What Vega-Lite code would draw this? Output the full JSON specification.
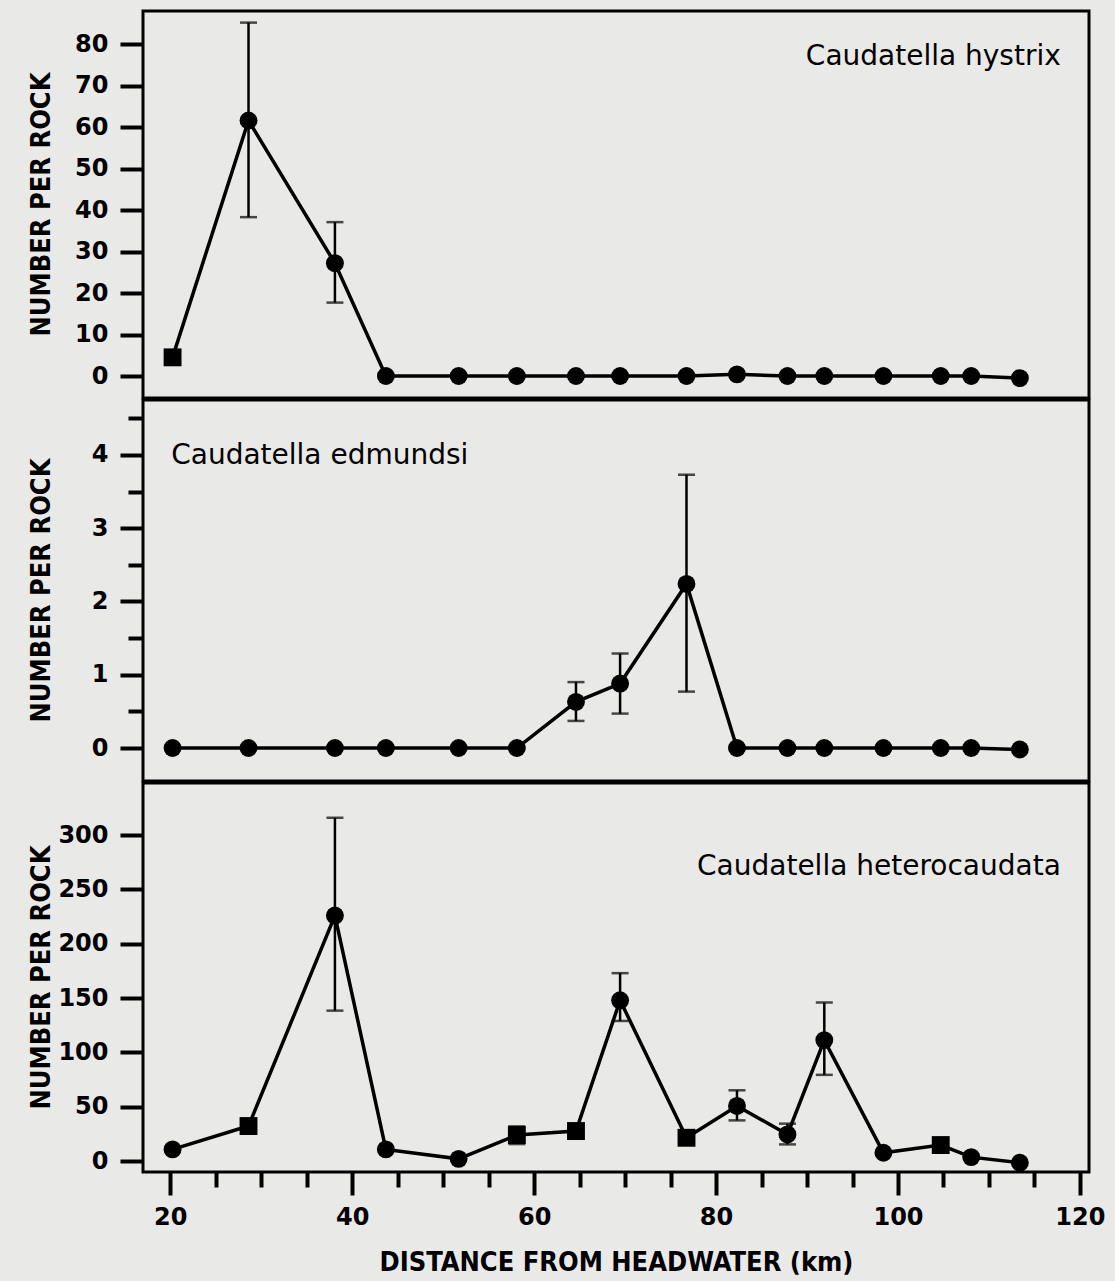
{
  "$schema": "https://vega.github.io/schema/vega-lite/v6.json",
  "background": "#e9e9e7",
  "padding": {"left": 25, "top": 9, "right": 23, "bottom": 6},
  "spacing": -3,
  "config": {
    "view": {"stroke": "#000", "strokeWidth": 3},
    "axis": {
      "domain": false, "grid": false, "tickColor": "#000", "tickWidth": 4,
      "labelColor": "#000", "labelFont": "DejaVu Sans", "labelFontSize": 24, "labelFontWeight": "bold",
      "titleColor": "#000", "titleFont": "DejaVu Sans Condensed", "titleFontSize": 27, "titleFontWeight": "bold"
    }
  },
  "datasets": {
    "d": [
      {"sp": "hystrix", "km": 20.25, "n": 4.5, "grp": "B"},
      {"sp": "hystrix", "km": 28.6, "n": 61.6, "lo": 38.3, "hi": 85.2, "grp": "A"},
      {"sp": "hystrix", "km": 38.1, "n": 27.2, "lo": 17.7, "hi": 37.1, "grp": "A"},
      {"sp": "hystrix", "km": 43.7, "n": 0, "grp": "A"},
      {"sp": "hystrix", "km": 51.7, "n": 0, "grp": "A"},
      {"sp": "hystrix", "km": 58.1, "n": 0, "grp": "A"},
      {"sp": "hystrix", "km": 64.6, "n": 0, "grp": "A"},
      {"sp": "hystrix", "km": 69.45, "n": 0, "grp": "A"},
      {"sp": "hystrix", "km": 76.75, "n": 0, "grp": "A"},
      {"sp": "hystrix", "km": 82.3, "n": 0.4, "grp": "A"},
      {"sp": "hystrix", "km": 87.85, "n": 0, "grp": "A"},
      {"sp": "hystrix", "km": 91.9, "n": 0, "grp": "A"},
      {"sp": "hystrix", "km": 98.4, "n": 0, "grp": "A"},
      {"sp": "hystrix", "km": 104.7, "n": 0, "grp": "A"},
      {"sp": "hystrix", "km": 108.05, "n": 0, "grp": "A"},
      {"sp": "hystrix", "km": 113.4, "n": -0.5, "grp": "A"},
      {"sp": "edmundsi", "km": 20.25, "n": 0, "grp": "A"},
      {"sp": "edmundsi", "km": 28.6, "n": 0, "grp": "A"},
      {"sp": "edmundsi", "km": 38.1, "n": 0, "grp": "A"},
      {"sp": "edmundsi", "km": 43.7, "n": 0, "grp": "A"},
      {"sp": "edmundsi", "km": 51.7, "n": 0, "grp": "A"},
      {"sp": "edmundsi", "km": 58.1, "n": 0, "grp": "A"},
      {"sp": "edmundsi", "km": 64.6, "n": 0.63, "lo": 0.37, "hi": 0.9, "grp": "A"},
      {"sp": "edmundsi", "km": 69.45, "n": 0.88, "lo": 0.47, "hi": 1.29, "grp": "A"},
      {"sp": "edmundsi", "km": 76.75, "n": 2.24, "lo": 0.77, "hi": 3.73, "grp": "A"},
      {"sp": "edmundsi", "km": 82.3, "n": 0, "grp": "A"},
      {"sp": "edmundsi", "km": 87.85, "n": 0, "grp": "A"},
      {"sp": "edmundsi", "km": 91.9, "n": 0, "grp": "A"},
      {"sp": "edmundsi", "km": 98.4, "n": 0, "grp": "A"},
      {"sp": "edmundsi", "km": 104.7, "n": 0, "grp": "A"},
      {"sp": "edmundsi", "km": 108.05, "n": 0, "grp": "A"},
      {"sp": "edmundsi", "km": 113.4, "n": -0.02, "grp": "A"},
      {"sp": "heterocaudata", "km": 20.25, "n": 10.8, "grp": "A"},
      {"sp": "heterocaudata", "km": 28.6, "n": 32.3, "grp": "B"},
      {"sp": "heterocaudata", "km": 38.1, "n": 226, "lo": 138.5, "hi": 316, "grp": "A"},
      {"sp": "heterocaudata", "km": 43.7, "n": 10.8, "grp": "A"},
      {"sp": "heterocaudata", "km": 51.7, "n": 2.1, "grp": "A"},
      {"sp": "heterocaudata", "km": 58.1, "n": 24, "lo": 15.7, "hi": 32, "grp": "B"},
      {"sp": "heterocaudata", "km": 64.6, "n": 27.7, "grp": "B"},
      {"sp": "heterocaudata", "km": 69.45, "n": 148, "lo": 129, "hi": 173, "grp": "A"},
      {"sp": "heterocaudata", "km": 76.75, "n": 21.5, "grp": "B"},
      {"sp": "heterocaudata", "km": 82.3, "n": 50.8, "lo": 37.5, "hi": 65.2, "grp": "A"},
      {"sp": "heterocaudata", "km": 87.85, "n": 24.6, "lo": 15.4, "hi": 34.5, "grp": "A"},
      {"sp": "heterocaudata", "km": 91.9, "n": 111.4, "lo": 79.4, "hi": 146, "grp": "A"},
      {"sp": "heterocaudata", "km": 98.4, "n": 7.7, "grp": "A"},
      {"sp": "heterocaudata", "km": 104.7, "n": 14.8, "grp": "B"},
      {"sp": "heterocaudata", "km": 108.05, "n": 3.7, "grp": "A"},
      {"sp": "heterocaudata", "km": 113.4, "n": -1.5, "grp": "A"}
    ]
  },
  "vconcat": [
    {
      "width": 946, "height": 387,
      "layer": [
        {
          "data": {"name": "d"},
          "transform": [{"filter": "datum.sp === 'hystrix'"}],
          "encoding": {
            "x": {"field": "km", "type": "quantitative", "scale": {"domain": [17, 121], "nice": false, "zero": false}, "axis": null}
          },
          "layer": [
            {"mark": {"type": "line", "color": "#000", "strokeWidth": 3.5},
             "encoding": {"y": {"field": "n", "type": "quantitative", "scale": {"domain": [-5.3, 88], "nice": false, "zero": false},
               "axis": {"values": [0,5,10,15,20,25,30,35,40,45,50,55,60,65,70,75,80,85],
                 "labelExpr": "datum.value % 10 === 0 ? datum.label : ''",
                 "tickSize": {"condition": {"test": "datum.value % 10 === 0", "value": 23}, "value": 15},
                 "labelPadding": 12,
                 "title": "NUMBER PER ROCK", "titleX": -102, "titleY": 193, "titleBaseline": "middle", "titleAngle": 270}}}},
            {"mark": {"type": "rule", "color": "#000", "strokeWidth": 2.5},
             "encoding": {"y": {"field": "lo", "type": "quantitative"}, "y2": {"field": "hi"}}},
            {"mark": {"type": "tick", "color": "#000", "orient": "horizontal", "size": 17, "thickness": 2.5},
             "encoding": {"y": {"field": "lo", "type": "quantitative"}}},
            {"mark": {"type": "tick", "color": "#000", "orient": "horizontal", "size": 17, "thickness": 2.5},
             "encoding": {"y": {"field": "hi", "type": "quantitative"}}},
            {"mark": {"type": "point", "filled": true, "color": "#000", "opacity": 1, "size": 320},
             "encoding": {"y": {"field": "n", "type": "quantitative"},
               "shape": {"field": "grp", "type": "nominal", "scale": {"domain": ["A", "B"], "range": ["circle", "square"]}, "legend": null}}}
          ]
        },
        {"data": {"values": [{"label": "Caudatella hystrix"}]},
         "mark": {"type": "text", "align": "right", "baseline": "alphabetic", "font": "DejaVu Sans", "fontSize": 28, "color": "#000"},
         "encoding": {"text": {"field": "label"}, "x": {"datum": 117.9, "type": "quantitative"}, "y": {"datum": 75, "type": "quantitative"}}}
      ]
    },
    {
      "width": 946, "height": 381,
      "layer": [
        {
          "data": {"name": "d"},
          "transform": [{"filter": "datum.sp === 'edmundsi'"}],
          "encoding": {
            "x": {"field": "km", "type": "quantitative", "scale": {"domain": [17, 121], "nice": false, "zero": false}, "axis": null}
          },
          "layer": [
            {"mark": {"type": "line", "color": "#000", "strokeWidth": 3.5},
             "encoding": {"y": {"field": "n", "type": "quantitative", "scale": {"domain": [-0.45, 4.75], "nice": false, "zero": false},
               "axis": {"values": [0,0.5,1,1.5,2,2.5,3,3.5,4,4.5], "format": ".0f",
                 "labelExpr": "datum.value % 1 === 0 ? datum.label : ''",
                 "tickSize": {"condition": {"test": "datum.value % 1 === 0", "value": 23}, "value": 15},
                 "labelPadding": 12,
                 "title": "NUMBER PER ROCK", "titleX": -102, "titleY": 190, "titleBaseline": "middle", "titleAngle": 270}}}},
            {"mark": {"type": "rule", "color": "#000", "strokeWidth": 2.5},
             "encoding": {"y": {"field": "lo", "type": "quantitative"}, "y2": {"field": "hi"}}},
            {"mark": {"type": "tick", "color": "#000", "orient": "horizontal", "size": 17, "thickness": 2.5},
             "encoding": {"y": {"field": "lo", "type": "quantitative"}}},
            {"mark": {"type": "tick", "color": "#000", "orient": "horizontal", "size": 17, "thickness": 2.5},
             "encoding": {"y": {"field": "hi", "type": "quantitative"}}},
            {"mark": {"type": "point", "filled": true, "color": "#000", "opacity": 1, "size": 320},
             "encoding": {"y": {"field": "n", "type": "quantitative"},
               "shape": {"field": "grp", "type": "nominal", "scale": {"domain": ["A", "B"], "range": ["circle", "square"]}, "legend": null}}}
          ]
        },
        {"data": {"values": [{"label": "Caudatella edmundsi"}]},
         "mark": {"type": "text", "align": "left", "baseline": "alphabetic", "font": "DejaVu Sans", "fontSize": 28, "color": "#000"},
         "encoding": {"text": {"field": "label"}, "x": {"datum": 20.1, "type": "quantitative"}, "y": {"datum": 3.87, "type": "quantitative"}}}
      ]
    },
    {
      "width": 946, "height": 389,
      "layer": [
        {
          "data": {"name": "d"},
          "transform": [{"filter": "datum.sp === 'heterocaudata'"}],
          "encoding": {
            "x": {"field": "km", "type": "quantitative", "scale": {"domain": [17, 121], "nice": false, "zero": false},
              "axis": {"values": [20,25,30,35,40,45,50,55,60,65,70,75,80,85,90,95,100,105,110,115,120],
                "labelExpr": "datum.value % 20 === 0 ? datum.label : ''",
                "tickSize": {"condition": {"test": "datum.value % 20 === 0", "value": 23}, "value": 15},
                "labelPadding": 10, "labelFlush": false, "labelOverlap": false,
                "title": "DISTANCE FROM HEADWATER (km)", "titlePadding": 20}}
          },
          "layer": [
            {"mark": {"type": "line", "color": "#000", "strokeWidth": 3.5},
             "encoding": {"y": {"field": "n", "type": "quantitative", "scale": {"domain": [-10, 348], "nice": false, "zero": false},
               "axis": {"values": [0,25,50,75,100,125,150,175,200,225,250,275,300,325],
                 "labelExpr": "datum.value % 50 === 0 ? datum.label : ''",
                 "tickSize": {"condition": {"test": "datum.value % 50 === 0", "value": 23}, "value": 15},
                 "labelPadding": 12,
                 "title": "NUMBER PER ROCK", "titleX": -102, "titleY": 194, "titleBaseline": "middle", "titleAngle": 270}}}},
            {"mark": {"type": "rule", "color": "#000", "strokeWidth": 2.5},
             "encoding": {"y": {"field": "lo", "type": "quantitative"}, "y2": {"field": "hi"}}},
            {"mark": {"type": "tick", "color": "#000", "orient": "horizontal", "size": 17, "thickness": 2.5},
             "encoding": {"y": {"field": "lo", "type": "quantitative"}}},
            {"mark": {"type": "tick", "color": "#000", "orient": "horizontal", "size": 17, "thickness": 2.5},
             "encoding": {"y": {"field": "hi", "type": "quantitative"}}},
            {"mark": {"type": "point", "filled": true, "color": "#000", "opacity": 1, "size": 320},
             "encoding": {"y": {"field": "n", "type": "quantitative"},
               "shape": {"field": "grp", "type": "nominal", "scale": {"domain": ["A", "B"], "range": ["circle", "square"]}, "legend": null}}}
          ]
        },
        {"data": {"values": [{"label": "Caudatella heterocaudata"}]},
         "mark": {"type": "text", "align": "right", "baseline": "alphabetic", "font": "DejaVu Sans", "fontSize": 28, "color": "#000"},
         "encoding": {"text": {"field": "label"}, "x": {"datum": 117.9, "type": "quantitative"}, "y": {"datum": 263, "type": "quantitative"}}}
      ]
    }
  ],
  "resolve": {"scale": {"y": "independent"}}
}
